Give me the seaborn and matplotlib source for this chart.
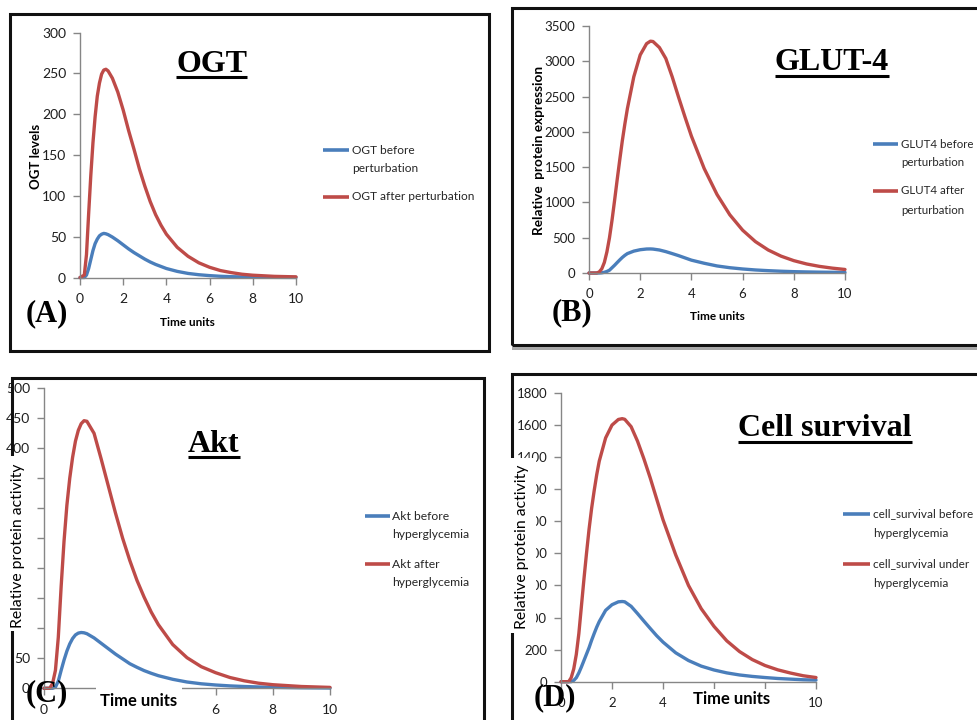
import numpy as np
import pandas as pd
import matplotlib
matplotlib.use("Agg")
import matplotlib.pyplot as plt
from matplotlib.patches import Rectangle
from matplotlib.lines import Line2D
import seaborn as sns

sns.set_theme(style="white")
plt.rcParams["font.family"] = ["Lato", "DejaVu Sans"]

# ---------------------------------------------------------------- data
time_ogt = [0, 0.2, 0.3, 0.4, 0.5, 0.6, 0.7, 0.8, 0.9, 1.0, 1.1, 1.2, 1.3, 1.5,
            1.75, 2.0, 2.25, 2.5, 2.75, 3.0, 3.25, 3.5, 3.75, 4.0, 4.5, 5.0,
            5.5, 6.0, 6.5, 7.0, 7.5, 8.0, 9.0, 10.0]
ogt_before = [0, 0, 3, 11, 22, 33, 41.5, 47, 51, 53, 54, 53.5, 52.5, 49.5,
              45, 40, 35, 30.5, 26.5, 22.5, 19, 16, 13.5, 11, 7.5, 5,
              3.4, 2.3, 1.5, 1, 0.7, 0.5, 0.2, 0.1]
ogt_after = [0, 3, 28, 78, 125, 165, 197, 222, 238, 249, 254, 255, 253, 244,
             227, 205, 180, 157, 133, 112, 93, 77, 64, 53, 37, 26,
             18, 12.5, 8.5, 6, 4, 2.8, 1.4, 0.8]

time_glut4 = [0, 0.3, 0.4, 0.5, 0.6, 0.7, 0.8, 0.9, 1.0, 1.1, 1.2, 1.3, 1.4,
              1.5, 1.75, 2.0, 2.25, 2.4, 2.5, 2.75, 3.0, 3.25, 3.5, 3.75,
              4.0, 4.5, 5.0, 5.5, 6.0, 6.5, 7.0, 7.5, 8.0, 8.5, 9.0, 9.5, 10.0]
glut4_before = [0, 0, 0, 3, 10, 22, 40, 75, 110, 148, 185, 220, 250,
                275, 310, 330, 340, 341, 339, 326, 303, 275, 246, 214,
                182, 138, 100, 75, 57, 43, 33, 25, 19, 15, 12, 10, 9]
glut4_after = [0, 0, 15, 60, 150, 300, 500, 750, 1030, 1320, 1600, 1870, 2110,
               2330, 2780, 3090, 3250, 3285, 3280, 3195, 3040, 2780, 2490, 2210,
               1940, 1480, 1113, 825, 607, 445, 326, 239, 175, 128, 94, 69, 50]

time_akt = [0, 0.2, 0.3, 0.4, 0.5, 0.6, 0.7, 0.8, 0.9, 1.0, 1.1, 1.2, 1.3,
            1.4, 1.5, 1.75, 2.0, 2.25, 2.5, 2.75, 3.0, 3.25, 3.5, 3.75, 4.0,
            4.5, 5.0, 5.5, 6.0, 6.5, 7.0, 7.5, 8.0, 9.0, 10.0]
akt_before = [0, 0, 0, 2, 12, 30, 47, 62, 74, 83, 89, 92, 93,
              92.5, 91, 84, 75, 66, 57, 49, 41, 35, 29.5, 25, 21,
              15, 10.5, 7.5, 5.5, 4, 3, 2.2, 1.6, 0.9, 0.5]
akt_after = [0, 0, 8, 30, 85, 170, 245, 305, 350, 385, 412, 430, 441,
             446, 445, 425, 382, 337, 292, 250, 213, 180, 152, 127, 106,
             73, 51, 36, 26, 18, 12.5, 8.5, 6, 3, 1.5]

time_cell = time_glut4
cell_before = [0, 0, 0, 8, 25, 55, 92, 132, 172, 212, 258, 300, 340,
               375, 445, 480, 498, 500, 498, 470, 425, 378, 332, 287,
               247, 180, 132, 97, 73, 55, 42, 33, 26, 20, 16, 12, 10]
cell_after = [0, 0, 25, 80, 170, 300, 470, 640, 800, 950, 1080, 1190, 1290,
              1375, 1520, 1600, 1635, 1640, 1636, 1590, 1500, 1390, 1270, 1140,
              1010, 790, 600, 455, 345, 255, 188, 138, 101, 74, 54, 37, 26]

# ---------------------------------------------------------------- style
BLUE = "#4A7EBB"
RED = "#BE4B48"
AXIS_GREY = "#868686"
INK = "#1e1e1e"
SERIF = ["Liberation Serif", "DejaVu Serif"]

W, H = 978, 720
fig = plt.figure(figsize=(W / 100, H / 100), dpi=100)
fig.patch.set_facecolor("white")


def fx(x):
    return x / W


def fy(y):
    return 1 - y / H


def frame(x0, y0, x1, y1):
    fig.add_artist(Rectangle((fx(x0), fy(y1)), (x1 - x0) / W, (y1 - y0) / H,
                             transform=fig.transFigure, facecolor="none",
                             edgecolor="#111111", linewidth=2.2, zorder=1))


def white_box(x0, y0, x1, y1):
    fig.add_artist(Rectangle((fx(x0), fy(y1)), (x1 - x0) / W, (y1 - y0) / H,
                             transform=fig.transFigure, facecolor="white",
                             edgecolor="none", zorder=2))


def label(x, y, s, size, weight="normal", rotation=0, family=None, va="center"):
    kw = {}
    if family:
        kw["family"] = family
    return fig.text(fx(x), fy(y), s, ha="center", va=va, fontsize=size,
                    fontweight=weight, rotation=rotation, color="black",
                    zorder=3, **kw)


def legend(x_line0, x_line1, x_text, entries, size, line_step):
    for (y, text, color) in entries:
        fig.add_artist(Line2D([fx(x_line0), fx(x_line1)], [fy(y), fy(y)],
                              transform=fig.transFigure, color=color,
                              linewidth=2.6, solid_capstyle="butt", zorder=3))
        for i, part in enumerate(text.split("\n")):
            fig.text(fx(x_text), fy(y + i * line_step), part, ha="left",
                     va="center", fontsize=size, color="#262626", zorder=3)


def panel(box, t, before, after, names, ymax, ystep, tick_size,
          hidden_x=(), hidden_y=()):
    left, top, right, bottom = box
    ax = fig.add_axes([fx(left), fy(bottom), (right - left) / W, (bottom - top) / H])
    n = len(t)
    df = pd.DataFrame({
        "time": list(t) * 2,
        "value": list(before) + list(after),
        "series": [names[0]] * n + [names[1]] * n,
    })
    sns.lineplot(data=df, x="time", y="value", hue="series",
                 palette=[BLUE, RED], linewidth=2.4, legend=False,
                 estimator=None, ax=ax)
    for ln in ax.lines:
        ln.set_clip_on(False)
        ln.set_solid_capstyle("round")
        ln.set_solid_joinstyle("round")
    ax.set_xlim(0, 10)
    ax.set_ylim(0, ymax)
    xt = list(range(0, 11, 2))
    yt = list(range(0, ymax + 1, ystep))
    ax.set_xticks(xt)
    ax.set_xticklabels(["" if v in hidden_x else str(v) for v in xt])
    ax.set_yticks(yt)
    ax.set_yticklabels(["" if v in hidden_y else str(v) for v in yt])
    ax.set_xlabel("")
    ax.set_ylabel("")
    ax.set_facecolor("none")
    for side in ("top", "right"):
        ax.spines[side].set_visible(False)
    for side in ("left", "bottom"):
        ax.spines[side].set_color(AXIS_GREY)
        ax.spines[side].set_linewidth(1.0)
    ax.tick_params(axis="both", direction="out", length=5, width=1,
                   color=AXIS_GREY, labelsize=tick_size, labelcolor=INK,
                   left=True, bottom=True)
    ax.tick_params(axis="x", pad=6)
    ax.tick_params(axis="y", pad=5)
    return ax


# ---------------------------------------------------------------- frames
frame(10, 14, 489, 351)
frame(512, 8, 995, 345)
fig.add_artist(Rectangle((fx(512), fy(350.5)), (W - 512) / W, 3.5 / H,
                         transform=fig.transFigure, facecolor="#a8a8a8",
                         edgecolor="none", zorder=1))
frame(12, 378, 484, 740)
frame(512, 374, 995, 740)

# ---------------------------------------------------------------- panel A
panel((80, 32.5, 296, 277.5), time_ogt, ogt_before, ogt_after,
      ["OGT before perturbation", "OGT after perturbation"], 300, 50, 10)
label(36.5, 156, "OGT levels", 9.5, "bold", rotation=90)
label(187, 322, "Time units", 8.5, "bold")
legend(323, 349, 352,
       [(150, "OGT before\nperturbation", BLUE),
        (197, "OGT after perturbation", RED)], 8.6, 18.5)

# ---------------------------------------------------------------- panel B
panel((589, 26, 845, 273), time_glut4, glut4_before, glut4_after,
      ["GLUT4 before perturbation", "GLUT4 after perturbation"], 3500, 500, 9.5)
label(539, 150, "Relative  protein expression", 9.8, "bold", rotation=90)
label(717, 317, "Time units", 8.5, "bold")
legend(873, 898, 901,
       [(144, "GLUT4 before\nperturbation", BLUE),
        (191, "GLUT4 after\nperturbation", RED)], 8.3, 19)

# ---------------------------------------------------------------- panel C
panel((44, 388.3, 330, 688.3), time_akt, akt_before, akt_after,
      ["Akt before hyperglycemia", "Akt after hyperglycemia"], 500, 50, 10,
      hidden_x=(2, 4), hidden_y=(100, 150, 200, 250, 300, 350))
white_box(7, 456, 33.5, 631)
white_box(96, 686, 182, 722)
label(18.5, 546, "Relative protein activity", 11.3, rotation=90)
label(138.5, 701, "Time units", 12, "bold")
legend(365, 390, 392,
       [(516, "Akt before\nhyperglycemia", BLUE),
        (564, "Akt after\nhyperglycemia", RED)], 8.7, 19)

# ---------------------------------------------------------------- panel D
panel((561, 393, 816, 681.7), time_cell, cell_before, cell_after,
      ["cell_survival before hyperglycemia", "cell_survival under hyperglycemia"],
      1800, 200, 9.5, hidden_x=(6, 8))
white_box(505, 458, 535.5, 633)
white_box(688, 689, 776, 716)
label(522, 547, "Relative protein activity", 11.3, rotation=90)
label(732, 699, "Time units", 12, "bold")
legend(843, 870, 873,
       [(514, "cell_survival before\nhyperglycemia", BLUE),
        (564, "cell_survival under\nhyperglycemia", RED)], 8.5, 19.5)

# ---------------------------------------------------------------- titles and panel letters
titles = [(212, 71.5, "OGT"), (832, 70, "GLUT-4"), (214, 451.5, "Akt"),
          (825, 436.5, "Cell survival")]
title_artists = [label(x, y, s, 23, "bold", family=SERIF, va="baseline")
                 for (x, y, s) in titles]
for (x, y, s) in [(46.5, 314, "(A)"), (572.5, 313, "(B)"),
                  (46.5, 694, "(C)"), (555, 698, "(D)")]:
    label(x, y, s, 22, "bold", family=SERIF)

fig.canvas.draw()
renderer = fig.canvas.get_renderer()
for art, (x, y, s) in zip(title_artists, titles):
    bb = art.get_window_extent(renderer)
    uy = fy(y + 5.5)
    fig.add_artist(Line2D([bb.x0 / W, bb.x1 / W], [uy, uy],
                          transform=fig.transFigure, color="black",
                          linewidth=2.2, solid_capstyle="butt", zorder=3))

fig.savefig("out.png", dpi=100, facecolor="white")
